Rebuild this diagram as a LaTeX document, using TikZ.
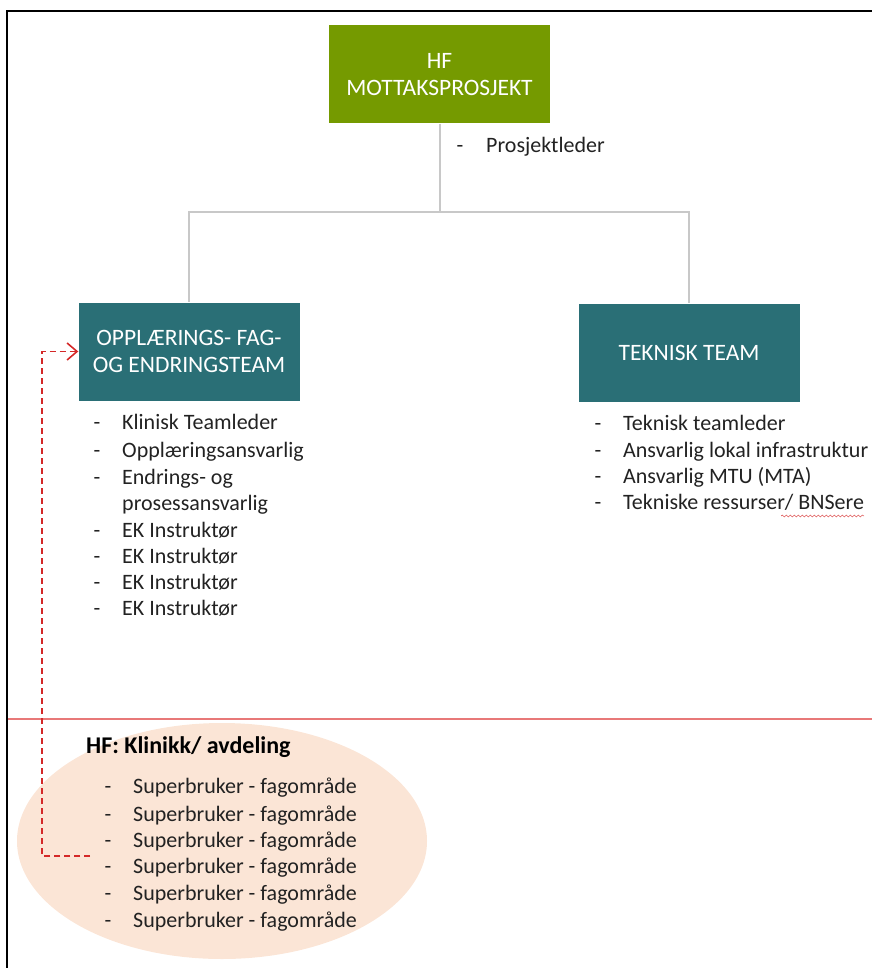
\documentclass[tikz,border=0pt]{standalone}
\usepackage{fontspec}
\setmainfont{Carlito}
\usetikzlibrary{positioning,arrows.meta,shapes.geometric,decorations.pathmorphing}

\definecolor{projgreen}{RGB}{117,154,0}
\definecolor{teamteal}{RGB}{42,111,118}
\definecolor{peach}{RGB}{251,229,214}
\definecolor{linegray}{RGB}{200,200,200}
\definecolor{lightred}{RGB}{232,120,120}
\definecolor{dashred}{RGB}{212,40,40}
\definecolor{itemtext}{RGB}{34,34,34}

\begin{document}
\begin{tikzpicture}[x=1pt,y=-1pt]
    \tikzstyle{teambox}=[rectangle, fill=teamteal, text=white, minimum width=221pt, minimum height=98pt, align=center, font=\fontsize{23.5}{26.5}\selectfont]
    \tikzstyle{item}=[anchor=base west, inner sep=0pt, text=itemtext, font=\fontsize{22}{26}\selectfont]
    \tikzstyle{itemdash}=[anchor=base, inner sep=0pt, text=itemtext, font=\fontsize{22}{26}\selectfont]

    \useasboundingbox (0,0) rectangle (872,968);

    % frame
    \draw[line width=2pt] (7,968) -- (7,11) -- (872,11);

    % boxes
    \node[teambox, fill=projgreen] (top) at (439.5,74.5) {HF\\MOTTAKSPROSJEKT};
    \node[teambox] (opl) at (189,351.5) {OPPLÆRINGS- FAG-\\OG ENDRINGSTEAM};
    \node[teambox] (tek) at (689,352.5) {TEKNISK TEAM};

    \coordinate (split) at (439.5,212);
    \draw[linegray, line width=2pt] (top) -- (split) -| (opl);
    \draw[linegray, line width=2pt] (split) -| (tek);

    \node[itemdash] (pd) at (460,153) {-};
    \node[item] (pl) at (486,153) {Prosjektleder};

    % opplaering list
    \foreach \y/\txt [count=\i] in {429/Klinisk Teamleder, 457/Opplæringsansvarlig, 484/Endrings- og,
        537/EK Instruktør, 563/EK Instruktør, 589/EK Instruktør, 615/EK Instruktør} {
        \node[itemdash] (od\i) at (97,\y) {-};
        \node[item] (oi\i) at (122,\y) {\txt};
    }
    \node[item] (oi3b) at (122,510) {prosessansvarlig};

    % teknisk list
    \foreach \y/\txt [count=\i] in {430/{Teknisk teamleder}, 457/{Ansvarlig lokal infrastruktur},
        483/{Ansvarlig MTU (MTA)}, 509/{Tekniske ressurser/ BNSere}} {
        \node[itemdash] (td\i) at (598,\y) {-};
        \node[item] (ti\i) at (623,\y) {\txt};
    }
    \draw[dashred, decorate, decoration={snake, amplitude=1pt, segment length=4pt}]
        ([xshift=-83pt, yshift=-7pt]ti4.base east) -- ([yshift=-7pt]ti4.base east);

    % divider
    \draw[lightred, line width=1.2pt] (8,719) -- (872,719);

    % klinikk
    \node[ellipse, fill=peach, minimum width=410pt, minimum height=236pt] (klinikk) at (222,841) {};
    \node[anchor=base west, inner sep=0pt, text=black, font=\fontsize{24}{28}\selectfont\bfseries] (heading) at (86,753) {HF: Klinikk/ avdeling};
    \foreach \y [count=\i] in {793,821,847,873,900,927} {
        \node[itemdash] (sd\i) at (108,\y) {-};
        \node[item] (si\i) at (133,\y) {Superbruker - fagområde};
    }

    \coordinate (back) at (90,856);
    \draw[dashred, line width=1.6pt, dash pattern=on 6pt off 4pt, -{Straight Barb[length=10pt, width=17pt]}]
        (back) -- ++(-48,0) |- (opl.west);
\end{tikzpicture}
\end{document}
